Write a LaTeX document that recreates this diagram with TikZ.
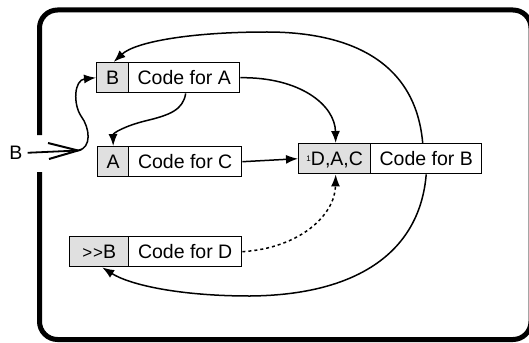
\documentclass[tikz,border=0pt]{standalone}
\usepackage{fontspec}
\setmainfont{Liberation Sans}
\usetikzlibrary{arrows.meta}
\definecolor{boxgray}{RGB}{224,224,224}
\begin{document}
\begin{tikzpicture}[x=1pt,y=-1pt,
  part/.style={draw=black, line width=1.4pt, anchor=north west, inner sep=0pt,
    minimum height=30pt, text height=13.5pt, text depth=0pt,
    font=\fontsize{19.5}{19.5}\selectfont},
  lbl/.style={part, fill=boxgray},
  code/.style={part, fill=white},
  conn/.style={line width=1.5pt, -{Latex[length=12pt,width=9pt]}},
  frame/.style={line width=5pt, rounded corners=18pt},
]
\useasboundingbox (0,0) rectangle (529,342);
% outer frame with an opening on the left
\draw[frame] (39.5,172) -- (39.5,339.5) -- (531,339.5) -- (531,10) -- (39.5,10) -- (39.5,135);

% boxes
\node[lbl, minimum width=32pt] (bl) at (96,62) {B};
\node[code, minimum width=111pt] (ca) at (128,62) {Code for A};
\node[lbl, minimum width=31pt] (al) at (97,146) {A};
\node[code, minimum width=113pt] (cc) at (128,146) {Code for C};
\node[lbl, minimum width=72pt] (dl) at (298,143) {\raisebox{4pt}{\fontsize{8}{8}\selectfont 1}D,A,C};
\node[code, minimum width=111pt] (cb) at (370,143) {Code for B};
\node[lbl, minimum width=59pt] (bbl) at (69,236) {{\fontsize{17}{17}\selectfont >\kern1pt>}B};
\node[code, minimum width=113pt] (cd) at (128,236) {Code for D};

% entry
\node[inner sep=0pt, font=\fontsize{19.5}{19.5}\selectfont] (bin) at (16,153) {B};
\coordinate (tip) at (78,150.5);
\draw[line width=1.8pt, shorten <=5pt] (bin.east) -- (tip);
\draw[line width=2pt] (48,143) -- (tip) -- (49,159);
\draw[conn] (tip) .. controls (92,148) and (90,128) .. (81,116)
  .. controls (73,104) and (74,80) .. (bl.west);

% connectors
\draw[conn] ([xshift=1.5pt]ca.south) .. controls (183,110) and (170,115) .. (145,121)
  .. controls (125,126) and (113,133) .. (al.north);
\draw[conn] (ca.east) .. controls (300,77) and (335,105) .. ([xshift=1pt]dl.north);
\draw[conn] (cc.east) -- (dl.west);
\draw[conn, dash pattern=on 3pt off 3pt] (cd.east) .. controls (300,248) and (335,215) .. ([xshift=1pt]dl.south);
\draw[conn] ([xshift=-3.5pt]cb.north) .. controls (415,55) and (340,32) .. (267,32)
  .. controls (190,32) and (135,42) .. ([xshift=1pt]bl.north);
\draw[conn] (cb.south) .. controls (420,250) and (360,295) .. (250,296)
  .. controls (180,296) and (130,285) .. ([xshift=3pt]bbl.south);
\end{tikzpicture}
\end{document}
